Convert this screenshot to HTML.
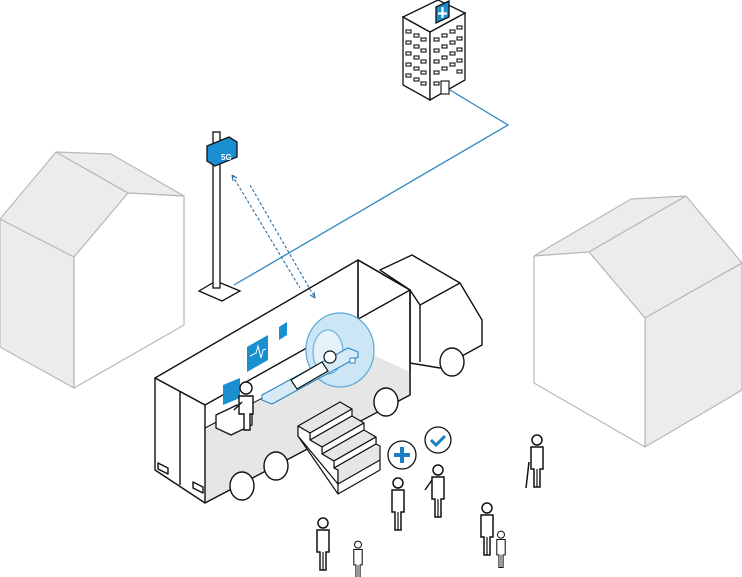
<!DOCTYPE html>
<html><head><meta charset="utf-8"><style>html,body{margin:0;padding:0;background:#fff}svg{display:block}</style></head>
<body>
<svg width="742" height="577" viewBox="0 0 742 577" xmlns="http://www.w3.org/2000/svg" font-family="Liberation Sans, sans-serif">
<defs>
<g id="p">
<circle cx="0" cy="-22" r="5" fill="#fff" stroke="#111" stroke-width="1.5"/>
<path d="M-6,-15 h12 v22 h-3 v18 h-6 v-18 h-3 z" fill="#fff" stroke="#111" stroke-width="1.5"/>
<line x1="0" y1="7" x2="0" y2="25" stroke="#111" stroke-width="1.2"/>
</g>
</defs>
<g stroke="#b8b8b8" stroke-width="1.2" stroke-linejoin="round">
<polygon points="0,219 74,257 74,388 0,347" fill="#ececec"/>
<polygon points="0,219 56,152 128,193 74,257" fill="#ececec"/>
<polygon points="56,152 111,154 184,196 128,193" fill="#ececec"/>
<polygon points="74,257 128,193 184,196 184,325 74,388" fill="#fff"/>
<polygon points="534,256 631,199 686,196 589,252" fill="#ececec"/>
<polygon points="589,252 686,196 742,263 645,318" fill="#ececec"/>
<polygon points="645,318 742,263 742,390 645,447" fill="#ececec"/>
<polygon points="534,256 589,252 645,318 645,447 534,383" fill="#fff"/>
</g>
<g stroke="#111" stroke-width="1.3" fill="#fff">
<polygon points="403,17 430,32 430,100 403,85"/>
<polygon points="430,32 465,13 465,80 430,100"/>
<polygon points="403,17 438,0 465,13 430,32"/>
<polygon points="436,7 449,1 449,17 436,23" fill="#1a8fd0"/>
<path d="M442.5,7 v11 M438,13.5 h9" stroke="#fff" stroke-width="2.2"/>
<g stroke-width="1.1">
<rect x="406" y="30" width="5" height="3"/><rect x="414" y="34" width="5" height="3"/><rect x="421" y="38" width="5" height="3"/>
<rect x="406" y="41" width="5" height="3"/><rect x="414" y="45" width="5" height="3"/><rect x="421" y="49" width="5" height="3"/>
<rect x="406" y="52" width="5" height="3"/><rect x="414" y="56" width="5" height="3"/><rect x="421" y="60" width="5" height="3"/>
<rect x="406" y="63" width="5" height="3"/><rect x="414" y="67" width="5" height="3"/><rect x="421" y="71" width="5" height="3"/>
<rect x="406" y="74" width="5" height="3"/><rect x="414" y="78" width="5" height="3"/><rect x="421" y="82" width="5" height="3"/>
<rect x="434" y="38" width="5" height="3"/><rect x="442" y="34" width="5" height="3"/><rect x="450" y="30" width="5" height="3"/><rect x="457" y="26" width="5" height="3"/>
<rect x="434" y="49" width="5" height="3"/><rect x="442" y="45" width="5" height="3"/><rect x="450" y="41" width="5" height="3"/><rect x="457" y="37" width="5" height="3"/>
<rect x="434" y="60" width="5" height="3"/><rect x="442" y="56" width="5" height="3"/><rect x="450" y="52" width="5" height="3"/><rect x="457" y="48" width="5" height="3"/>
<rect x="434" y="71" width="5" height="3"/><rect x="442" y="67" width="5" height="3"/><rect x="450" y="63" width="5" height="3"/><rect x="457" y="59" width="5" height="3"/>
<rect x="434" y="82" width="5" height="3"/><rect x="441" y="81" width="8" height="13"/><rect x="457" y="70" width="5" height="3"/>
</g>
</g>
<polyline points="234,285 508,125 450,90" fill="none" stroke="#2a86c4" stroke-width="1.3"/>
<g stroke="#2a6fa8" stroke-width="1.1" stroke-dasharray="3,2" fill="none">
<line x1="232" y1="175" x2="300" y2="288"/>
<line x1="250" y1="185" x2="315" y2="298"/>
</g>
<path d="M232,175 l1,6 M232,175 l5,3 M315,298 l-1,-6 M315,298 l-5,-3" stroke="#2a6fa8" stroke-width="1.1"/>
<g stroke="#111" stroke-width="1.3" fill="#fff">
<polygon points="199,291 216,281 240,291 222,301"/>
<rect x="213" y="132" width="7" height="156"/>
<polygon points="207,146 229,137 237,142 237,157 215,166 207,161" fill="#1a8fd0"/>
<text x="221" y="160" font-size="8" font-weight="bold" fill="#fff" stroke="none">5G</text>
</g>
<g stroke="#111" stroke-width="1.4" stroke-linejoin="round">
<polygon points="380,270 412,255 460,283 482,320 482,345 440,368 410,363 410,290" fill="#fff"/>
<polyline points="410,290 420,305 460,283" fill="none"/>
<line x1="420" y1="305" x2="420" y2="362"/>
<polygon points="358,260 410,290 410,395 358,352" fill="#fff"/>
<polygon points="205,428 358,348 410,372 410,395 205,503" fill="#e6e6e6" stroke="none"/>
<line x1="358" y1="260" x2="358" y2="350"/>
<line x1="205" y1="428" x2="358" y2="348" stroke-width="1"/>
<polygon points="155,378 358,260 410,290 205,405" fill="none"/>
<polygon points="155,378 205,405 205,503 155,470" fill="#fff"/>
<line x1="180" y1="392" x2="180" y2="485"/>
<line x1="205" y1="503" x2="410" y2="395"/>
<line x1="410" y1="290" x2="410" y2="395"/>
<polygon points="158,463 168,468 168,474 158,469" fill="#fff"/>
<polygon points="193,482 203,487 203,493 193,488" fill="#fff"/>
<ellipse cx="242" cy="486" rx="12" ry="14" fill="#fff"/>
<ellipse cx="276" cy="466" rx="12" ry="14" fill="#fff"/>
<ellipse cx="386" cy="402" rx="12" ry="14" fill="#fff"/>
<ellipse cx="452" cy="362" rx="12" ry="14" fill="#fff"/>
</g>
<ellipse cx="340" cy="350" rx="34" ry="37" fill="#cde6f5" stroke="#5aa7d6" stroke-width="1.2"/>
<ellipse cx="328" cy="352" rx="15" ry="22" fill="#e6f2fa" stroke="#5aa7d6" stroke-width="1"/>
<polygon points="262,395 348,348 358,352 358,357 272,404 262,400" fill="#d7ebf7" stroke="#2a86c4" stroke-width="1.1"/>
<rect x="350" y="358" width="5" height="5" fill="#fff" stroke="#2a86c4"/>
<g stroke="#111" stroke-width="1.2" fill="#fff">
<polygon points="291,380 322,362 328,371 297,389"/>
<circle cx="330" cy="357" r="6"/>
</g>
<polygon points="247,347 268,335 268,360 247,372" fill="#1a8fd0"/>
<polyline points="250,356 256,353 258,346 261,358 263,350 266,349" fill="none" stroke="#fff" stroke-width="1"/>
<polygon points="279,327 287,322 287,335 279,340" fill="#1a8fd0"/>
<polygon points="223,385 240,378 240,398 223,405" fill="#1a8fd0"/>
<polygon points="216,415 237,405 252,412 252,425 231,435 216,428" fill="#fff" stroke="#111" stroke-width="1.3"/>
<g stroke="#111" stroke-width="1.4" fill="#fff">
<circle cx="246" cy="388" r="6"/>
<path d="M239,396 h14 v18 h-3 v16 h-6 v-16 h-5 z"/>
<line x1="242" y1="402" x2="234" y2="410"/>
</g>
<!-- stairs -->
<g stroke="#111" stroke-width="1.2" stroke-linejoin="round">
<polygon points="298,426 298,436 338,494 338,484" fill="#fff"/>
<polygon points="298,426 340,402 352,409 310,433" fill="#e6e6e6"/>
<polygon points="310,433 352,409 352,416 310,440" fill="#fff"/>
<polygon points="310,440 352,416 364,423 322,447" fill="#e6e6e6"/>
<polygon points="322,447 364,423 364,430 322,454" fill="#fff"/>
<polygon points="322,454 364,430 376,437 334,461" fill="#e6e6e6"/>
<polygon points="334,461 376,437 376,444 334,468" fill="#fff"/>
<polygon points="334,461 376,437 376,444 334,468" fill="#fff"/>
<polygon points="298,426 310,433 310,440 322,447 322,454 334,461 334,468 338,470 338,484 298,436" fill="#fff"/>
<polygon points="334,468 376,444 380,446 380,460 338,484 338,470" fill="#e6e6e6"/>
<line x1="338" y1="494" x2="380" y2="470"/><line x1="380" y1="460" x2="380" y2="470"/>
</g>
<circle cx="402" cy="455" r="14" fill="#fff" stroke="#111" stroke-width="1.3"/>
<path d="M402,447 v16 M394,455 h16" stroke="#1a7fc4" stroke-width="4"/>
<circle cx="438" cy="440" r="13" fill="#fff" stroke="#111" stroke-width="1.3"/>
<path d="M431,440 l5,5 l9,-9" fill="none" stroke="#1a7fc4" stroke-width="3"/>
<use href="#p" x="398" y="505"/>
<use href="#p" x="438" y="492"/>
<use href="#p" x="323" y="545"/>
<use href="#p" x="537" y="462"/>
<use href="#p" x="487" y="530"/>
<g transform="translate(358,560) scale(0.7)"><use href="#p"/></g>
<g transform="translate(501,550) scale(0.7)"><use href="#p"/></g>
<line x1="529" y1="462" x2="526" y2="488" stroke="#111" stroke-width="1.5"/>
<line x1="432" y1="480" x2="425" y2="490" stroke="#111" stroke-width="1.5"/>
</svg>
</body></html>
